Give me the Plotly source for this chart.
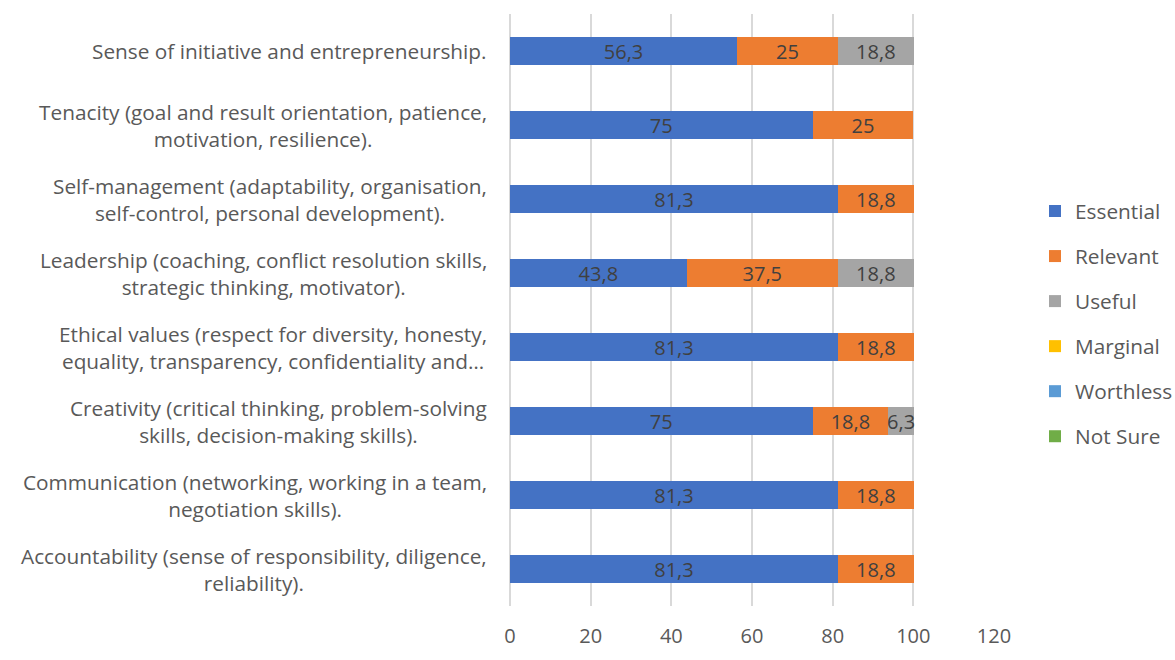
import plotly.graph_objects as go

# Competence categories, listed top to bottom
categories = [
    "Sense of initiative and entrepreneurship.",
    "Tenacity (goal and result orientation, patience,<br>motivation, resilience).",
    "Self-management (adaptability, organisation,<br>self-control, personal development).",
    "Leadership (coaching, conflict resolution skills,<br>strategic thinking, motivator).",
    "Ethical values (respect for diversity, honesty,<br>equality, transparency, confidentiality and…",
    "Creativity (critical thinking, problem-solving<br>skills, decision-making skills).",
    "Communication (networking, working in a team,<br>negotiation skills).",
    "Accountability (sense of responsibility, diligence,<br>reliability).",
]

essential = [56.3, 75, 81.3, 43.8, 81.3, 75, 81.3, 81.3]
relevant = [25, 25, 18.8, 37.5, 18.8, 18.8, 18.8, 18.8]
useful = [18.8, None, None, 18.8, None, 6.3, None, None]
marginal = [None] * 8
worthless = [None] * 8
not_sure = [None] * 8

series = [
    ("Essential", essential, "#4472C4"),
    ("Relevant", relevant, "#ED7D31"),
    ("Useful", useful, "#A5A5A5"),
    ("Marginal", marginal, "#FFC000"),
    ("Worthless", worthless, "#5B9BD5"),
    ("Not Sure", not_sure, "#70AD47"),
]

x_ticks = [0, 20, 40, 60, 80, 100, 120]

FONT = "Open Sans, Calibri, Arial, sans-serif"
TEXT_GREY = "#595959"
LABEL_SIZE = 20.8
VALUE_SIZE = 20


def label(v):
    return "" if v is None else f"{v:g}".replace(".", ",")


fig = go.Figure()
for name, vals, color in series:
    fig.add_trace(go.Bar(
        name=name,
        y=categories,
        x=vals,
        orientation="h",
        marker=dict(color=color, line=dict(width=0)),
        width=0.39,
        text=[label(v) for v in vals],
        textposition="inside",
        insidetextanchor="middle",
        textangle=0,
        textfont=dict(family=FONT, size=VALUE_SIZE, color="#404040"),
        constraintext="none",
        cliponaxis=False,
        legendgroup=name,
        hoverinfo="x+name",
    ))

# Category labels: right-aligned blocks with centred lines
for cat in categories:
    fig.add_annotation(
        x=0, xref="paper", xanchor="right", xshift=-21,
        y=cat, yref="y", yanchor="middle",
        text=cat, align="center", showarrow=False,
        font=dict(family=FONT, size=LABEL_SIZE, color=TEXT_GREY),
    )

fig.update_layout(
    barmode="stack",
    width=1175, height=660,
    margin=dict(l=510, r=181, t=14, b=54, autoexpand=False),
    paper_bgcolor="white", plot_bgcolor="white",
    font=dict(family=FONT, size=VALUE_SIZE, color=TEXT_GREY),
    uniformtext=dict(minsize=VALUE_SIZE, mode="show"),
    legend=dict(
        xref="container", yref="container",
        x=1035 / 1175, xanchor="left", y=1 - 191 / 660, yanchor="top",
        font=dict(family=FONT, size=LABEL_SIZE, color=TEXT_GREY),
        tracegroupgap=15, itemwidth=30,
        bgcolor="rgba(0,0,0,0)",
    ),
    showlegend=True,
)
fig.update_xaxes(
    range=[0, 120], tickvals=x_ticks, ticktext=[str(t) for t in x_ticks],
    showgrid=True, gridcolor="#D9D9D9", gridwidth=1.5,
    zeroline=True, zerolinecolor="#D9D9D9", zerolinewidth=1.5,
    showline=False, ticks="", ticklabelstandoff=16,
    tickfont=dict(family=FONT, size=VALUE_SIZE, color=TEXT_GREY),
)
fig.update_yaxes(
    autorange="reversed", showticklabels=False, showgrid=False,
    zeroline=False, showline=False, ticks="",
)

fig.write_html("out.html")
